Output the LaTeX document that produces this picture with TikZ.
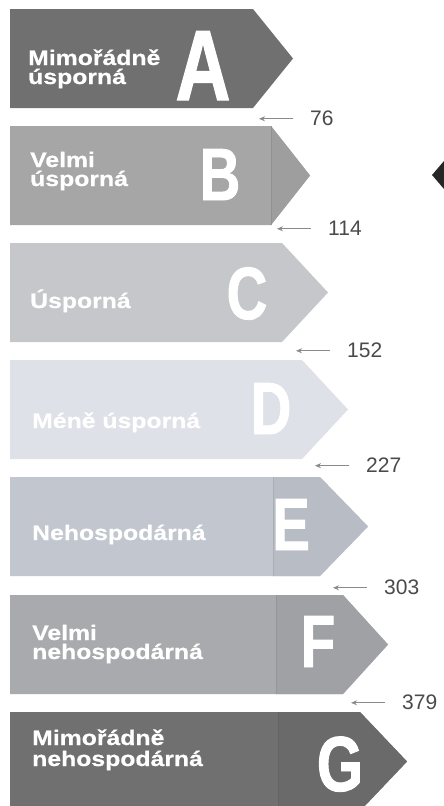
\documentclass[tikz,border=0pt]{standalone}
\usepackage{fontspec}
\setmainfont{Liberation Sans}
\newfontfamily\lblfont[FakeStretch=1.18,FakeBold=0.6]{Liberation Sans}
\newfontfamily\letfont[FakeStretch=0.76,FakeBold=1.2]{Liberation Sans}
\usetikzlibrary{arrows.meta}
\definecolor{cA}{HTML}{707070}
\definecolor{cB}{HTML}{A6A6A6}
\definecolor{cC}{HTML}{C5C7CA}
\definecolor{cD}{HTML}{DEE1E7}
\definecolor{cE}{HTML}{C2C6CE}
\definecolor{cF}{HTML}{A8AAAE}
\definecolor{cG}{HTML}{707070}
\definecolor{numgray}{HTML}{4A4A4A}
\definecolor{ptrgray}{HTML}{8A8A8A}
\tikzset{
  lbl/.style={anchor=base west, text=white, inner sep=0pt, font=\lblfont\bfseries\fontsize{21}{21}\selectfont},
  letter/.style={anchor=base, text=white, inner sep=0pt, font=\letfont\bfseries\fontsize{74}{74}\selectfont},
  num/.style={anchor=base west, text=numgray, inner sep=0pt, font=\fontsize{21}{21}\selectfont},
  ptr/.style={draw=ptrgray, line width=1pt, -{Stealth[length=6pt,width=5pt]}},
}
% #1 top y, #2 corner x, #3 tip x, #4 colour
\newcommand\ebarshape[4]{%
  \fill[#4] (10,#1) -- (#2,#1) -- (#3,#1+49.5) -- (#2,#1+99) -- (10,#1+99) -- cycle;}
% section for letter: #1 top y, #2 corner x, #3 tip x, #4 colour, #5 section start x
\newcommand\ebarsect[5]{%
  \fill[#4!95!black] (#5,#1) -- (#2,#1) -- (#3,#1+49.5) -- (#2,#1+99) -- (#5,#1+99) -- cycle;
  \draw[#4!88!black, line width=0.5pt] (#5,#1) -- (#5,#1+99);}
\begin{document}
\begin{tikzpicture}[x=1pt,y=-1pt]
\useasboundingbox (0,0) rectangle (444,806);
\fill[white] (0,0) rectangle (444,806);
\begin{scope}
\clip (0,0) rectangle (444,806);
% bars
\ebarshape{9}{253}{293}{cA}
\ebarshape{126}{271}{310}{cB}
\ebarsect{126}{271}{310}{cB}{271}
\ebarshape{243}{282}{328}{cC}
\ebarshape{360}{302}{348}{cD}
\ebarshape{477}{320}{368}{cE}
\ebarsect{477}{320}{368}{cE}{273}
\ebarshape{595}{343}{388}{cF}
\ebarsect{595}{343}{388}{cF}{276}
\ebarshape{712}{360}{407}{cG}
\ebarsect{712}{360}{407}{cG}{278}
% pointer at right edge
\fill[black!85] (432,175) -- (444,161) -- (444,189) -- cycle;
\end{scope}
% texts
\node[lbl] (tA1) at (28,65) {Mimořádně};
\node[lbl] (tA2) at (28,84) {úsporná};
\node[lbl] (tB1) at (30,167) {Velmi};
\node[lbl] (tB2) at (30,186) {úsporná};
\node[lbl] (tC) at (30,308) {Úsporná};
\node[lbl] (tD) at (32,428) {Méně úsporná};
\node[lbl] (tE) at (32,540) {Nehospodárná};
\node[lbl] (tF1) at (32,640) {Velmi};
\node[lbl] (tF2) at (32,659) {nehospodárná};
\node[lbl] (tG1) at (32,745) {Mimořádně};
\node[lbl] (tG2) at (32,766) {nehospodárná};
% letters
\node[letter, font=\letfont\bfseries\fontsize{100}{100}\selectfont] (LA) at (203,100) {A};
\node[letter] (LB) at (220,200) {B};
\node[letter] (LC) at (247,319) {C};
\node[letter] (LD) at (271,434) {D};
\node[letter] (LE) at (291,550) {E};
\node[letter] (LF) at (318,667) {F};
\node[letter, font=\letfont\bfseries\fontsize{78}{78}\selectfont] (LG) at (340,791) {G};
% numbers with pointers
\node[num] (n76) at (310,125) {76};
\node[num] (n114) at (328,235) {114};
\node[num] (n152) at (347,357) {152};
\node[num] (n227) at (366,472) {227};
\node[num] (n303) at (384,594) {303};
\node[num] (n379) at (402,709) {379};
\foreach \n in {n76,n114,n152,n227,n303,n379}{
  \draw[ptr] ([xshift=-17pt,yshift=-1pt]\n.west) -- ++(-34,0);
}
\end{tikzpicture}
\end{document}
